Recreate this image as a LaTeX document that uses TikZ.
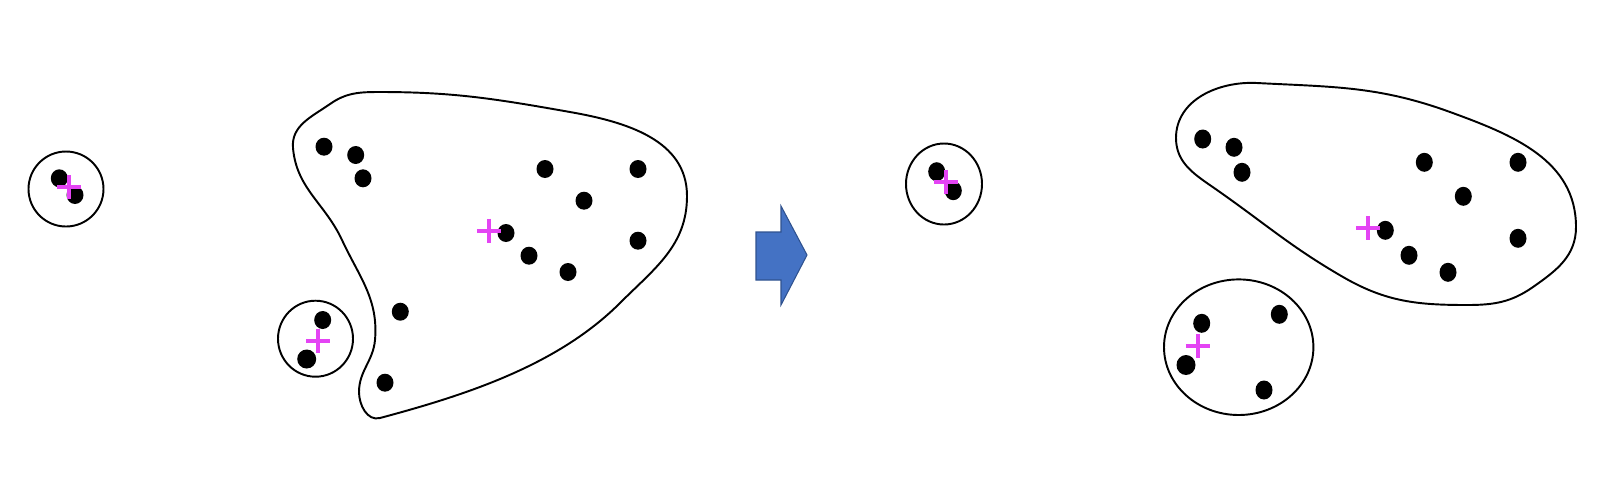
\documentclass[tikz,border=0pt]{standalone}
\usepackage{xcolor}
\usepackage{tikz}
\usetikzlibrary{arrows.meta}

\definecolor{centroidpink}{RGB}{228,68,244}
\definecolor{arrowfill}{RGB}{68,114,196}
\definecolor{arrowedge}{RGB}{47,82,143}

\begin{document}
\begin{tikzpicture}[
  x=0.02cm, y=-0.02cm,
  clusterline/.style={draw=black, line width=1.1pt},
  datadot/.style={fill=black},
  centroid/.style={draw=centroidpink, line width=2.3pt},
  shiftarrow/.style={fill=arrowfill, draw=arrowedge, line width=0.6pt, line join=miter},
]
\useasboundingbox (0,0) rectangle (1616,478);

%% ── Before: clusters ────────────────────────────────────────────────────────
\draw[clusterline] (66,189) circle [radius=37.5];
\draw[clusterline] (315.5,338.7) ellipse [x radius=37.5, y radius=38];
\draw[clusterline] (380,92)
  to[out=0, in=170]    (570,112)
  to[out=-10, in=90]   (687,196)
  to[out=-90, in=45]   (620,303)
  to[out=-135, in=15, looseness=0.85] (380,418)
  to[out=195, in=-90]  (359,392)
  to[out=90, in=-95]   (375,340)
  to[out=85, in=-65]   (342,240)
  to[out=115, in=-85]  (293,148)
  to[out=95, in=-145]  (330,104)
  to[out=35, in=180]   (380,92) -- cycle;

\foreach \px/\py in {59.3/178.3, 75/195, 322.7/320, 324/146.7, 355.7/155,
    363/178.3, 545/169, 638/169, 584/200.7, 506/233, 638/240.7, 529/255.7,
    568/272, 400.3/311.7, 385/382.7}
  \fill[datadot] (\px,\py) ellipse [x radius=8.5, y radius=9];
\fill[datadot] (306.7,359) ellipse [x radius=9.5, y radius=9.5];

\foreach \cx/\cy in {69/187.3, 318.3/340.7, 489/230.7}
  \draw[centroid] (\cx,\cy) ++(-12,0) -- ++(24,0)
                  (\cx,\cy) ++(0,-12) -- ++(0,24);

%% ── Step arrow ──────────────────────────────────────────────────────────────
\filldraw[shiftarrow] (756,232) -- (781,232) -- (781,206) -- (807,255)
  -- (781,305) -- (781,280) -- (756,280) -- cycle;

%% ── After: clusters ─────────────────────────────────────────────────────────
\draw[clusterline] (944,184) ellipse [x radius=38, y radius=40.5];
\draw[clusterline] (1238.7,347.2) ellipse [x radius=74.7, y radius=67.8];
\draw[clusterline] (1257,83)
  to[out=-3, in=160]   (1450,112)
  to[out=-20, in=90]   (1576,227)
  to[out=-90, in=35]   (1533,287)
  to[out=-145, in=0]   (1467,305)
  to[out=180, in=-30]  (1343,277)
  to[out=150, in=-35]  (1217,190)
  to[out=145, in=-90]  (1176,138)
  to[out=90, in=177]   (1257,83) -- cycle;

\foreach \px/\py in {936.7/171.7, 953.3/190.7, 1201.7/323.3, 1279.3/314.3,
    1264/390, 1202.7/139, 1234/147.3, 1242/172.3, 1424.3/162.3,
    1518/162.3, 1463.3/196.3, 1385.3/230.3, 1518/238.3, 1409/255.3,
    1448/272.3}
  \fill[datadot] (\px,\py) ellipse [x radius=8.5, y radius=9.5];
\fill[datadot] (1186,365) ellipse [x radius=9.5, y radius=10];

\foreach \cx/\cy in {946/182.3, 1197.7/346, 1368.3/228.3}
  \draw[centroid] (\cx,\cy) ++(-12,0) -- ++(24,0)
                  (\cx,\cy) ++(0,-12) -- ++(0,24);

\end{tikzpicture}
\end{document}
